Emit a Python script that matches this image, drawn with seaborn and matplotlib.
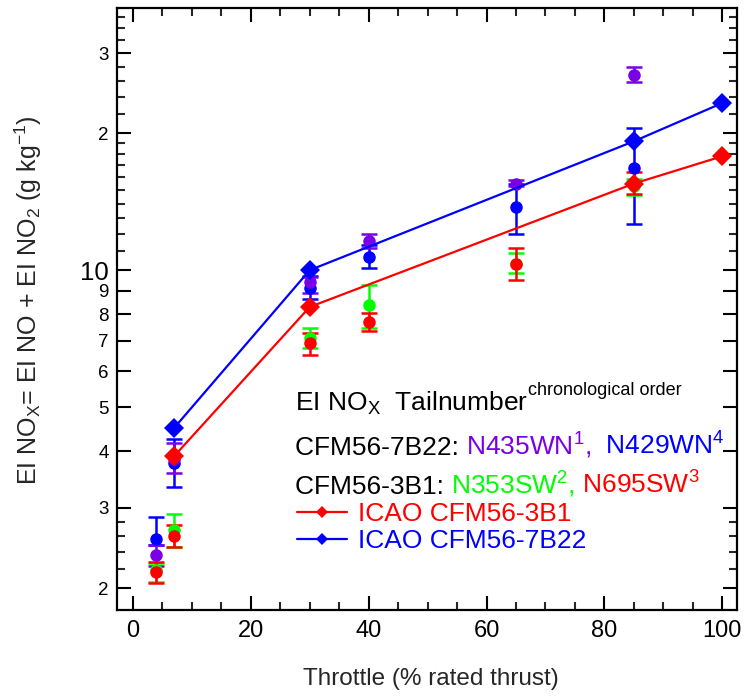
import numpy as np
import pandas as pd
import matplotlib
matplotlib.use("Agg")
import matplotlib.pyplot as plt
import seaborn as sns
from matplotlib.ticker import FixedLocator, NullFormatter
from matplotlib.transforms import IdentityTransform
from matplotlib.lines import Line2D

# ---------------- data ----------------
throttle = [4, 7, 30, 40, 65, 85]

n435wn = [2.36, 3.85, 9.40, 11.6, 15.5, 26.8]
n435wn_lo = [2.24, 3.58, 8.90, 11.2, 15.3, 25.9]
n435wn_hi = [2.49, 4.17, 9.65, 12.0, 15.8, 27.9]

n429wn = [2.56, 3.77, 9.15, 10.7, 13.8, 16.8]
n429wn_lo = [2.49, 3.34, 8.65, 10.1, 12.0, 12.6]
n429wn_hi = [2.87, 4.26, 9.70, 11.35, 15.5, 20.5]

n353sw = [2.19, 2.68, 7.10, 8.38, 10.3, 15.3]
n353sw_lo = [2.06, 2.46, 6.74, 7.46, 9.85, 14.6]
n353sw_hi = [2.27, 2.91, 7.46, 9.27, 10.9, 15.9]

n695sw = [2.17, 2.60, 6.90, 7.69, 10.3, 15.5]
n695sw_lo = [2.05, 2.46, 6.50, 7.35, 9.50, 14.7]
n695sw_hi = [2.28, 2.75, 7.28, 8.04, 11.2, 16.4]

icao_thrust = [7, 30, 85, 100]
icao_3b1 = [3.9, 8.3, 15.5, 17.8]
icao_7b22 = [4.5, 10.0, 19.2, 23.3]

y_major = [2, 3, 4, 5, 6, 7, 8, 9, 10, 20, 30]
y_major_labels = ["2", "3", "4", "5", "6", "7", "8", "9", "10", "2", "3"]
y_minor = [2.2, 2.4, 2.6, 2.8, 11, 12, 13, 14, 15, 16, 17, 18, 19, 22, 24, 26, 28, 32, 34, 36]

PURPLE = "#7a00e6"
BLUE = "#0000ff"
GREEN = "#00ff00"
RED = "#ff0000"

# ---------------- style ----------------
sns.set_theme(style="ticks")
plt.rcParams["font.family"] = ["Liberation Sans", "DejaVu Sans"]
plt.rcParams["mathtext.fontset"] = "custom"
plt.rcParams["mathtext.rm"] = "Liberation Sans"
plt.rcParams["mathtext.it"] = "Liberation Sans:italic"
plt.rcParams["mathtext.bf"] = "Liberation Sans:bold"

DPI = 100
fig = plt.figure(figsize=(7.46, 7.0), dpi=DPI)
ax = fig.add_axes([117 / 746, 1 - 610 / 700, (737 - 117) / 746, (610 - 8) / 700])

# measurements with error bars
series = [
    (n429wn, n429wn_lo, n429wn_hi, BLUE),
    (n435wn, n435wn_lo, n435wn_hi, PURPLE),
    (n353sw, n353sw_lo, n353sw_hi, GREEN),
    (n695sw, n695sw_lo, n695sw_hi, RED),
]
for vals, lo, hi, col in series:
    v = np.array(vals)
    yerr = [v - np.array(lo), np.array(hi) - v]
    ax.errorbar(throttle, v, yerr=yerr, fmt="o", color=col, ms=8,
                elinewidth=1.8, capsize=6, capthick=1.8, zorder=3)

# ICAO lines
df = pd.DataFrame({
    "thrust": icao_thrust * 2,
    "EI": icao_3b1 + icao_7b22,
    "engine": ["ICAO CFM56-3B1"] * 4 + ["ICAO CFM56-7B22"] * 4,
})
sns.lineplot(data=df, x="thrust", y="EI", hue="engine",
             palette={"ICAO CFM56-3B1": RED, "ICAO CFM56-7B22": BLUE},
             marker="D", markersize=10, markeredgewidth=0, linewidth=1.6,
             ax=ax, zorder=5, legend=False)

ax.set_yscale("log")
ax.set_xlim(-2.7, 102.5)
ax.set_ylim(1.79, 37.7)

ax.yaxis.set_major_locator(FixedLocator(y_major))
ax.set_yticklabels(y_major_labels)
ax.yaxis.set_minor_locator(FixedLocator(y_minor))
ax.yaxis.set_minor_formatter(NullFormatter())
ax.set_xticks([0, 20, 40, 60, 80, 100])
ax.set_xticks(np.arange(0, 101, 5), minor=True)

ax.tick_params(axis="both", which="major", direction="in", length=10, width=1.5,
               top=True, right=True, colors="black")
ax.tick_params(axis="both", which="minor", direction="in", length=6, width=1.5,
               top=True, right=True)
ax.tick_params(axis="x", labelsize=17, pad=7)
ax.tick_params(axis="y", labelsize=13.5, pad=6)
ax.get_yticklabels()[8].set_fontsize(18.5)

for s in ax.spines.values():
    s.set_linewidth(1.6)
    s.set_color("black")

ax.set_xlabel("Throttle (% rated thrust)", fontsize=17.5)
ax.xaxis.set_label_coords(0.506, -0.097)
ax.set_ylabel(r"EI NO$_\mathregular{X}$= EI NO + EI NO$_\mathregular{2}$ (g kg$^{\mathregular{-1}}$)",
              fontsize=18)
ax.yaxis.set_label_coords(-0.118, 0.515)

# legend for ICAO lines
handles = [Line2D([], [], color=RED, marker="D", ms=6.5, mew=0, lw=1.6),
           Line2D([], [], color=BLUE, marker="D", ms=6.5, mew=0, lw=1.6)]
leg = ax.legend(handles, ["ICAO CFM56-3B1", "ICAO CFM56-7B22"], loc="upper left",
                bbox_to_anchor=((297 - 117) / 620, (610 - 502) / 602),
                frameon=False, fontsize=19, labelcolor=[RED, BLUE],
                handlelength=1.9, handletextpad=0.42, labelspacing=0.12,
                borderaxespad=0, borderpad=0)

# multicolour annotation text
H = 700


def chain(pieces, x0, y_base):
    fig.canvas.draw()
    r = fig.canvas.get_renderer()
    x = x0
    for txt, col, size, dy in pieces:
        t = fig.text(x, H - y_base + dy, txt, color=col, fontsize=size,
                     transform=IdentityTransform(), va="baseline", ha="left")
        bb = t.get_window_extent(renderer=r)
        x = bb.x1


chain([("EI NO$_\\mathregular{X}$  Tailnumber", "black", 19, 0),
       ("chronological order", "black", 13, 16)], 295, 411)
chain([("CFM56-7B22: ", "black", 19, 0),
       ("N435WN$^\\mathregular{1}$,", PURPLE, 19, 0),
       ("  N429WN$^\\mathregular{4}$", BLUE, 19, 0)], 295, 455)
chain([("CFM56-3B1: ", "black", 19, 0),
       ("N353SW$^\\mathregular{2}$,", GREEN, 19, 0),
       (" N695SW$^\\mathregular{3}$", RED, 19, 0)], 295, 494)

fig.savefig("out.png", dpi=DPI)
